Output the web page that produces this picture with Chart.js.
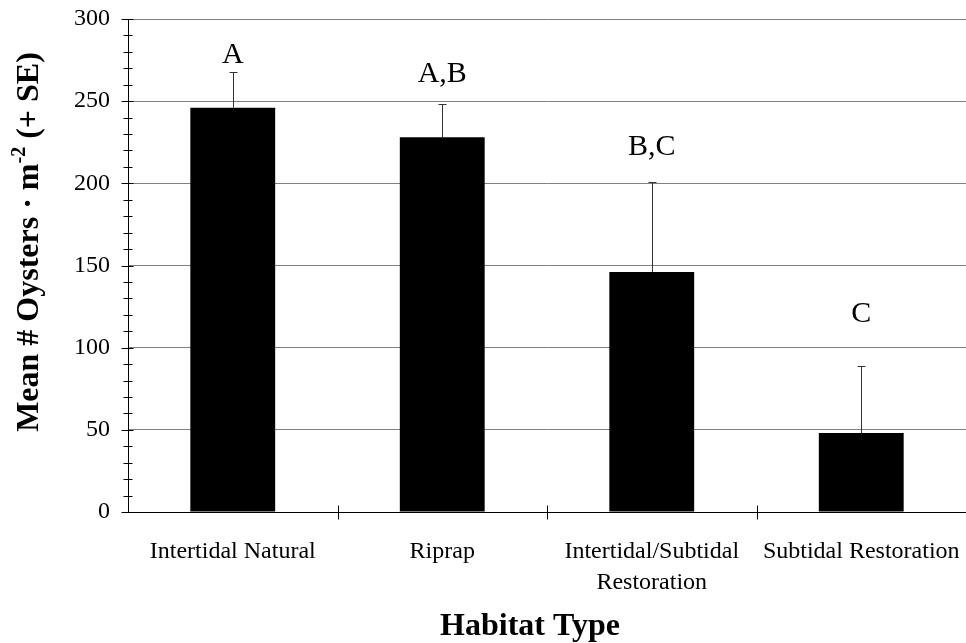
<!DOCTYPE html>
<html>
<head>
<meta charset="utf-8">
<script src="https://cdn.jsdelivr.net/npm/chart.js@4"></script>
<style>
  body { margin: 0; background: #fff; }
  #wrap { width: 966px; height: 643px; }
</style>
</head>
<body>
<div id="wrap"><canvas id="oysterChart" width="966" height="643"></canvas></div>
<script>
// data
const habitats = [
  'Intertidal Natural',
  'Riprap',
  ['Intertidal/Subtidal', 'Restoration'],
  'Subtidal Restoration'
];
const meanOysters = [246, 228, 146, 48];
const seUpper = [22, 20, 55, 41];
const groupLetters = ['A', 'A,B', 'B,C', 'C'];
const yTicks = [0, 50, 100, 150, 200, 250, 300];

const serif = '"Liberation Serif", "Times New Roman", serif';

// little hand-tuned gaps between the error cap and its letter
const letterGap = [16, 30, 35, 52];

const decorations = {
  id: 'decorations',
  afterDatasetsDraw(chart) {
    const ctx = chart.ctx;
    const x = chart.scales.x;
    const y = chart.scales.y;
    const meta = chart.getDatasetMeta(0);
    ctx.save();

    // upper SE bars
    ctx.strokeStyle = '#333';
    ctx.lineWidth = 1;
    meta.data.forEach((bar, i) => {
      const top = y.getPixelForValue(meanOysters[i] + seUpper[i]);
      const cx = Math.round(bar.x) + 0.5;
      ctx.beginPath();
      ctx.moveTo(cx, bar.y);
      ctx.lineTo(cx, Math.round(top) + 0.5);
      ctx.moveTo(cx - 4, Math.round(top) + 0.5);
      ctx.lineTo(cx + 4, Math.round(top) + 0.5);
      ctx.stroke();
    });

    // significance letters
    ctx.fillStyle = '#000';
    ctx.font = '30px ' + serif;
    ctx.textAlign = 'center';
    ctx.textBaseline = 'middle';
    meta.data.forEach((bar, i) => {
      const top = y.getPixelForValue(meanOysters[i] + seUpper[i]);
      ctx.fillText(groupLetters[i], bar.x, top - letterGap[i]);
    });

    // y tick marks crossing the axis (minor every 10)
    ctx.strokeStyle = '#000';
    const ax = Math.round(y.right) + 0.5;
    y.ticks.forEach(t => {
      const py = Math.round(y.getPixelForValue(t.value)) + 0.5;
      const major = t.value % 50 === 0;
      ctx.beginPath();
      ctx.moveTo(ax - (major ? 7 : 5), py);
      ctx.lineTo(ax + (major ? 5 : 4), py);
      ctx.stroke();
    });

    // x tick marks at category boundaries
    const half = (x.right - x.left) / habitats.length;
    const ay = Math.round(x.top) + 0.5;
    for (let i = 1; i <= habitats.length; i++) {
      const px = Math.round(x.left + i * half) + 0.5;
      ctx.beginPath();
      ctx.moveTo(px, ay - 7);
      ctx.lineTo(px, ay + 7);
      ctx.stroke();
    }

    // axis titles
    ctx.font = 'bold 32px ' + serif;
    ctx.textBaseline = 'alphabetic';
    ctx.fillText('Habitat Type', 530, 635);

    ctx.translate(38, 242);
    ctx.rotate(-Math.PI / 2);
    const partA = 'Mean # Oysters \u00b7 m';
    const partSup = '-2';
    const partB = ' (+ SE)';
    ctx.font = 'bold 32px ' + serif;
    const wA = ctx.measureText(partA).width;
    const wB = ctx.measureText(partB).width;
    ctx.font = 'bold 20px ' + serif;
    const wS = ctx.measureText(partSup).width;
    let cur = -(wA + wS + wB) / 2;
    ctx.textAlign = 'left';
    ctx.font = 'bold 32px ' + serif;
    ctx.fillText(partA, cur, 0);
    cur += wA;
    ctx.font = 'bold 20px ' + serif;
    ctx.fillText(partSup, cur, -13);
    cur += wS;
    ctx.font = 'bold 32px ' + serif;
    ctx.fillText(partB, cur, 0);
    ctx.restore();
  }
};

new Chart(document.getElementById('oysterChart'), {
  type: 'bar',
  data: {
    labels: habitats,
    datasets: [{
      data: meanOysters,
      backgroundColor: '#000',
      borderWidth: 0,
      categoryPercentage: 1,
      barPercentage: 0.405
    }]
  },
  options: {
    responsive: false,
    animation: false,
    layout: { padding: { top: 19, right: 0, left: 0, bottom: 0 } },
    plugins: { legend: { display: false }, tooltip: { enabled: false } },
    scales: {
      x: {
        grid: { display: false, drawTicks: false },
        border: { color: '#000', width: 1 },
        ticks: {
          color: '#000',
          font: { family: serif, size: 24, lineHeight: 1.3 },
          padding: 24,
          maxRotation: 0,
          autoSkip: false
        },
        afterFit(scale) {
          scale.height = 131;
          scale.paddingLeft = 0;
          scale.paddingRight = 0;
        }
      },
      y: {
        min: 0,
        max: 300,
        grid: {
          drawTicks: false,
          color: ctx => (ctx.tick && ctx.tick.value % 50 === 0 && ctx.tick.value > 0) ? '#808080' : 'rgba(0,0,0,0)',
          lineWidth: 1
        },
        border: { color: '#000', width: 1 },
        ticks: {
          stepSize: 10,
          color: '#000',
          font: { family: serif, size: 24 },
          padding: 18,
          autoSkip: false,
          callback: v => yTicks.includes(v) ? String(v) : ''
        },
        afterFit(scale) {
          scale.width = 128;
          scale.paddingTop = 0;
          scale.paddingBottom = 0;
        }
      }
    }
  },
  plugins: [decorations]
});
</script>
</body>
</html>
